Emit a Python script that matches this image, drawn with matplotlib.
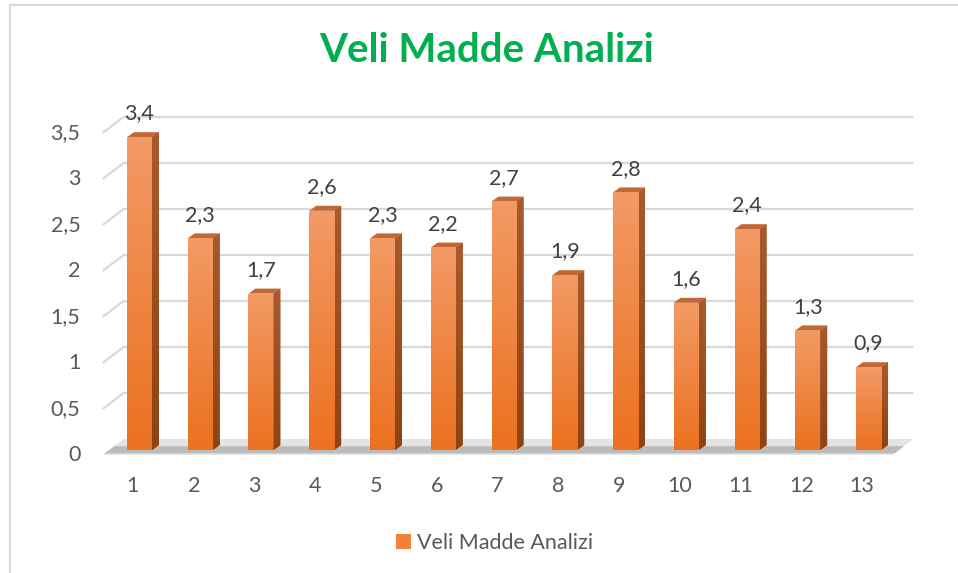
import numpy as np
import matplotlib
matplotlib.use("Agg")
import matplotlib.pyplot as plt
from matplotlib.patches import Polygon, Rectangle

plt.rcParams["font.family"] = ["Lato", "DejaVu Sans"]

categories = [str(i) for i in range(1, 14)]
values = [3.4, 2.3, 1.7, 2.6, 2.3, 2.2, 2.7, 1.9, 2.8, 1.6, 2.4, 1.3, 0.9]
y_ticks = [0, 0.5, 1, 1.5, 2, 2.5, 3, 3.5]
series_name = "Veli Madde Analizi"
title = "Veli Madde Analizi"

W, H = 958, 573
fig = plt.figure(figsize=(W / 100, H / 100), dpi=100)

# axes = front plane of the 3D box
left_px, right_px = 102.6, 892.4
zero_px, top_px = 455, 133
ax = fig.add_axes([left_px / W, 1 - zero_px / H, (right_px - left_px) / W, (zero_px - top_px) / H])
ax.set_xlim(0.5, 13.5)
ax.set_ylim(0, 3.5)
ax.set_axis_off()

px_x = (right_px - left_px) / 13.0
px_y = (zero_px - top_px) / 3.5

# back wall offset
bx, by = 21 / px_x, 16 / px_y

# gridlines on the back, slanted ones on left wall
for v in y_ticks[1:]:
    ax.plot([0.5, 0.5 + bx, 13.5 + bx], [v, v + by, v + by], color="#D9D9D9",
            lw=1.6, zorder=0, clip_on=False, solid_capstyle="butt")

# floor
floor = Polygon([(0.5, 0), (13.5, 0), (13.5 + bx, by), (0.5 + bx, by)],
                closed=True, facecolor="#E4E4E4", edgecolor="none", zorder=1, clip_on=False)
ax.add_patch(floor)
shadow = Polygon([(0.5 + 0.1 * bx, 0.1 * by), (13.5 + 0.1 * bx, 0.1 * by),
                  (13.5 + 0.55 * bx, 0.55 * by), (0.5 + 0.55 * bx, 0.55 * by)],
                 closed=True, facecolor="#A0A0A0", edgecolor="none", alpha=0.6, zorder=1, clip_on=False)
ax.add_patch(shadow)

# bars
x = np.arange(1, len(values) + 1)
ox, oy = 6.5 / px_x, 5 / px_y
dx, dy = 7 / px_x, 5 / px_y
width = 25 / px_x

bars = ax.bar(x + ox, values, width=width, bottom=oy, color="#F08234", zorder=3, clip_on=False)

grad = np.linspace(0, 1, 256).reshape(-1, 1)
front_cmap = matplotlib.colors.LinearSegmentedColormap.from_list("front", ["#EB711F", "#F39A66"])
side_cmap = matplotlib.colors.LinearSegmentedColormap.from_list("side", ["#8E4312", "#A85A2C"])

for b, v in zip(bars, values):
    x0, x1 = b.get_x(), b.get_x() + b.get_width()
    y0, y1 = b.get_y(), b.get_y() + b.get_height()
    im = ax.imshow(grad, extent=[x0, x1, y0, y1], origin="lower", aspect="auto",
                   cmap=front_cmap, zorder=3.5)
    im.set_clip_path(b)
    side = Polygon([(x1, y0), (x1 + dx, y0 + dy), (x1 + dx, y1 + dy), (x1, y1)], closed=True,
                   facecolor="#9A4D1E", edgecolor="none", zorder=2.5, clip_on=False)
    ax.add_patch(side)
    im2 = ax.imshow(grad, extent=[x1, x1 + dx, y0, y1 + dy], origin="lower", aspect="auto",
                    cmap=side_cmap, zorder=2.6)
    im2.set_clip_path(side)
    top = Polygon([(x0, y1), (x1, y1), (x1 + dx, y1 + dy), (x0 + dx, y1 + dy)], closed=True,
                  facecolor="#C26834", edgecolor="none", zorder=2.7, clip_on=False)
    ax.add_patch(top)
    ax.annotate(f"{v:.1f}".replace(".", ","), xy=((x0 + x1) / 2, y1), xytext=(0, 17),
                textcoords="offset points", ha="center", va="center", fontsize=15.5,
                color="#404040", zorder=5)

ax.set_xlim(0.5, 13.5)
ax.set_ylim(0, 3.5)

# tick labels (front plane)
for v in y_ticks:
    lab = f"{v:g}".replace(".", ",")
    ax.annotate(lab, xy=(0.5, v), xytext=(-16, 0), textcoords="offset points",
                ha="right", va="center", fontsize=15.5, color="#595959", annotation_clip=False)
for xi, c in zip(x, categories):
    ax.annotate(c, xy=(xi, 0), xytext=(0, -22), textcoords="offset points",
                ha="center", va="center", fontsize=15.5, color="#595959", annotation_clip=False)

fig.text(0.508, 1 - 51 / H, title, ha="center", va="center", fontsize=29,
         fontweight="bold", color="#00B050")

handle = Rectangle((0, 0), 1, 1, facecolor="#F08234", edgecolor="none")
fig.legend([handle], [series_name], loc="center", bbox_to_anchor=(0.516, 1 - 543 / H),
           frameon=False, fontsize=15.5, handlelength=0.7, handleheight=0.7,
           handletextpad=0.3, labelcolor="#595959")

# chart border (cropped on right and bottom)
fig.add_artist(Rectangle((10 / W, -0.1), 1.2, 1.1 - 5 / H, transform=fig.transFigure,
                         fill=False, edgecolor="#D9D9D9", lw=1.5))

fig.savefig("out.png", dpi=100)
